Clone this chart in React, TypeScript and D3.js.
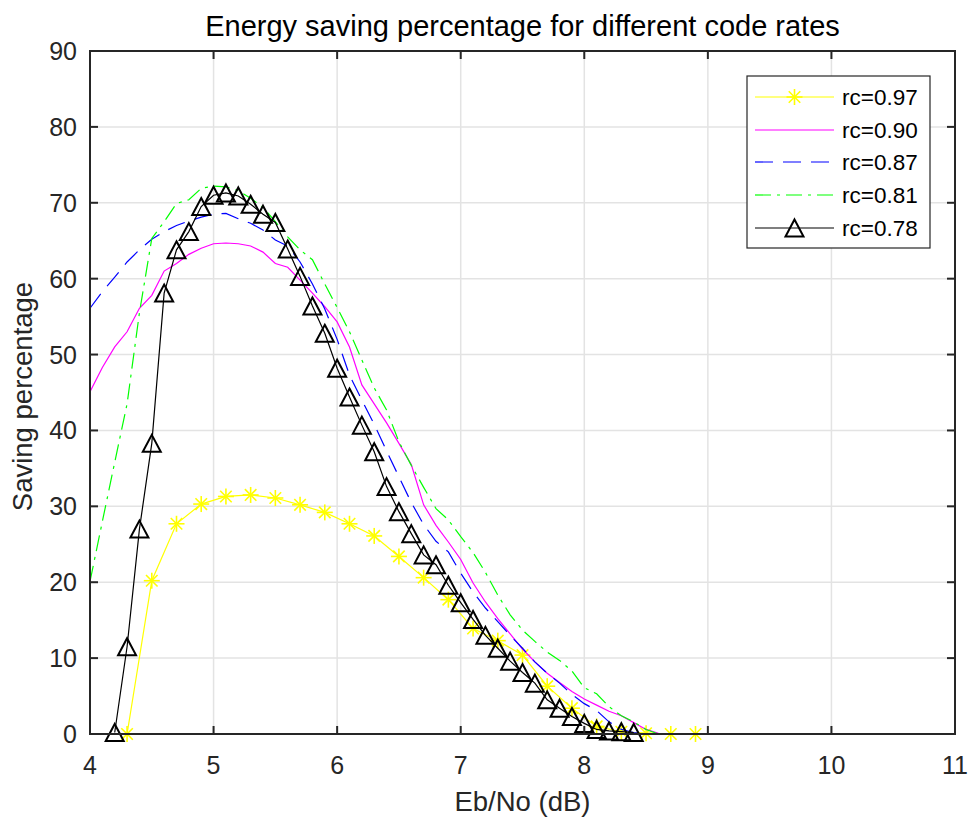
import React from 'react';
import * as d3 from 'd3';

const xTicks = [4, 5, 6, 7, 8, 9, 10, 11];
const yTicks = [0, 10, 20, 30, 40, 50, 60, 70, 80, 90];

const x97 = [4.3, 4.5, 4.7, 4.9, 5.1, 5.3, 5.5, 5.7, 5.9, 6.1, 6.3, 6.5, 6.7, 6.9, 7.1, 7.3, 7.5, 7.7, 7.9, 8.1, 8.3, 8.5, 8.7, 8.9];
const y97 = [0, 20.2, 27.7, 30.3, 31.3, 31.5, 31.1, 30.2, 29.2, 27.7, 26.1, 23.4, 20.6, 17.7, 13.9, 12.3, 10.4, 6.3, 3.4, 1.0, 0.3, 0.1, 0, 0];

const x90 = [4.0, 4.1, 4.2, 4.3, 4.4, 4.5, 4.6, 4.7, 4.8, 4.9, 5.0, 5.1, 5.2, 5.3, 5.4, 5.5, 5.6, 5.7, 5.8, 5.9, 6.0, 6.1, 6.2, 6.3, 6.4, 6.5, 6.6, 6.7, 6.8, 6.9, 7.0, 7.1, 7.2, 7.3, 7.4, 7.5, 7.6, 7.7, 7.8, 7.9, 8.0, 8.1, 8.2, 8.3, 8.4, 8.5, 8.6, 8.7];
const y90 = [45.1, 48.3, 51.0, 53.0, 56.1, 57.8, 61.0, 62.0, 63.2, 64.0, 64.6, 64.7, 64.6, 64.3, 63.5, 62.0, 61.5, 59.8, 58.1, 56.3, 54.3, 51.0, 46.0, 43.5, 41.0, 38.3, 35.5, 30.2, 27.5, 25.3, 23.0, 19.9, 17.4, 15.2, 13.2, 11.2, 9.5, 8.0, 6.8, 5.6, 4.6, 3.8, 3.0, 2.4, 1.5, 0.6, 0.1, 0];

const x87 = [4.0, 4.1, 4.2, 4.3, 4.4, 4.5, 4.6, 4.7, 4.8, 4.9, 5.0, 5.1, 5.2, 5.3, 5.4, 5.5, 5.6, 5.7, 5.8, 5.9, 6.0, 6.1, 6.2, 6.3, 6.4, 6.5, 6.6, 6.7, 6.8, 6.9, 7.0, 7.1, 7.2, 7.3, 7.4, 7.5, 7.6, 7.7, 7.8, 7.9, 8.0, 8.1, 8.2, 8.3, 8.4, 8.5];
const y87 = [56.1, 58.3, 60.2, 62.2, 63.8, 65.2, 66.2, 67.0, 67.6, 68.1, 68.5, 68.6, 67.9, 67.3, 66.4, 65.1, 64.3, 62.2, 59.3, 56.0, 52.0, 47.3, 44.0, 40.8, 37.3, 33.9, 30.5, 27.6, 25.4, 24.0, 21.2, 18.7, 16.6, 14.8, 13.0, 11.3, 9.5, 8.0, 6.7, 5.2, 4.0, 3.1, 1.6, 0.6, 0.2, 0];

const x81 = [4.0, 4.1, 4.2, 4.3, 4.4, 4.5, 4.6, 4.7, 4.8, 4.9, 5.0, 5.1, 5.2, 5.3, 5.4, 5.5, 5.6, 5.7, 5.8, 5.9, 6.0, 6.1, 6.2, 6.3, 6.4, 6.5, 6.6, 6.7, 6.8, 6.9, 7.0, 7.1, 7.2, 7.3, 7.4, 7.5, 7.6, 7.7, 7.8, 7.9, 8.0, 8.1, 8.2, 8.3, 8.4, 8.5, 8.6];
const y81 = [20.1, 28.0, 35.8, 43.5, 55.5, 65.3, 67.5, 69.9, 70.4, 71.9, 72.2, 72.1, 71.6, 70.6, 69.4, 67.5, 65.5, 63.8, 62.5, 59.3, 56.2, 53.0, 49.3, 45.6, 42.7, 38.5, 35.4, 32.5, 29.7, 28.2, 26.0, 23.9, 21.3, 18.3, 15.7, 13.7, 12.2, 10.8, 9.7, 8.3, 6.1, 5.3, 3.6, 2.4, 1.6, 0.6, 0];

const x78 = [4.2, 4.3, 4.4, 4.5, 4.6, 4.7, 4.8, 4.9, 5.0, 5.1, 5.2, 5.3, 5.4, 5.5, 5.6, 5.7, 5.8, 5.9, 6.0, 6.1, 6.2, 6.3, 6.4, 6.5, 6.6, 6.7, 6.8, 6.9, 7.0, 7.1, 7.2, 7.3, 7.4, 7.5, 7.6, 7.7, 7.8, 7.9, 8.0, 8.1, 8.2, 8.3, 8.4];
const y78 = [0.2, 11.5, 27.0, 38.3, 58.1, 63.8, 66.2, 69.5, 71.0, 71.3, 70.9, 69.8, 68.5, 67.4, 63.9, 60.3, 56.4, 52.8, 48.2, 44.4, 40.7, 37.2, 32.6, 29.3, 26.4, 23.6, 22.3, 19.6, 17.3, 15.1, 13.0, 11.3, 9.6, 8.1, 6.7, 4.5, 3.4, 2.3, 1.4, 0.6, 0.4, 0.3, 0.2];

const seriesNames = ['rc=0.97', 'rc=0.90', 'rc=0.87', 'rc=0.81', 'rc=0.78'];

type Series = { name: string; xs: number[]; ys: number[]; color: string; dash?: string; marker?: 'star' | 'tri' };

const series: Series[] = [
  { name: seriesNames[0], xs: x97, ys: y97, color: '#ffff00', marker: 'star' },
  { name: seriesNames[1], xs: x90, ys: y90, color: '#ff00ff' },
  { name: seriesNames[2], xs: x87, ys: y87, color: '#0000ff', dash: '18,10' },
  { name: seriesNames[3], xs: x81, ys: y81, color: '#00ff00', dash: '16,6,3,6' },
  { name: seriesNames[4], xs: x78, ys: y78, color: '#000000', marker: 'tri' },
];

const L = 90, R = 955, T = 51, B = 734;
const FONT = 'Arial, "Liberation Sans", Helvetica, sans-serif';
const AX = '#262626';

function Star({ cx, cy, color }: { cx: number; cy: number; color: string }) {
  const r = 8;
  const d = r * 0.72;
  return (
    <g stroke={color} strokeWidth={1.6}>
      <line x1={cx - r} y1={cy} x2={cx + r} y2={cy} />
      <line x1={cx} y1={cy - r} x2={cx} y2={cy + r} />
      <line x1={cx - d} y1={cy - d} x2={cx + d} y2={cy + d} />
      <line x1={cx - d} y1={cy + d} x2={cx + d} y2={cy - d} />
    </g>
  );
}

function Tri({ cx, cy }: { cx: number; cy: number }) {
  const w = 9, h = 8.5;
  return (
    <polygon
      points={`${cx},${cy - h} ${cx + w},${cy + h} ${cx - w},${cy + h}`}
      fill="none"
      stroke="#000"
      strokeWidth={2}
      strokeLinejoin="miter"
    />
  );
}

export default function App() {
  const x = d3.scaleLinear().domain([4, 11]).range([L, R]);
  const y = d3.scaleLinear().domain([0, 90]).range([B, T]);
  const line = d3.line<[number, number]>().x(d => x(d[0])).y(d => y(d[1]));

  const legX = 747, legY = 76, legW = 183, legH = 172;
  const entryY = [97, 130, 162, 195, 228];

  return (
    <svg width={968} height={817} style={{ position: 'absolute', left: 0, top: 0, background: '#fff' }} fontFamily={FONT}>
      <rect x={0} y={0} width={968} height={817} fill="#fff" />
      {/* grid */}
      <g stroke="#e3e3e3" strokeWidth={1.5}>
        {xTicks.slice(1, -1).map(t => (
          <line key={'gx' + t} x1={x(t)} x2={x(t)} y1={T} y2={B} />
        ))}
        {yTicks.slice(1, -1).map(t => (
          <line key={'gy' + t} x1={L} x2={R} y1={y(t)} y2={y(t)} />
        ))}
      </g>

      {/* data */}
      <g>
        {series.map(s => {
          const pts = s.xs.map((v, i) => [v, s.ys[i]] as [number, number]);
          return (
            <g key={s.name}>
              <path d={line(pts) || ''} fill="none" stroke={s.color} strokeWidth={1.2} strokeDasharray={s.dash} />
              {s.marker === 'star' && pts.map((p, i) => <Star key={i} cx={x(p[0])} cy={y(p[1])} color={s.color} />)}
              {s.marker === 'tri' && pts.map((p, i) => <Tri key={i} cx={x(p[0])} cy={y(p[1])} />)}
            </g>
          );
        })}
      </g>

      {/* axes box and ticks */}
      <rect x={L} y={T} width={R - L} height={B - T} fill="none" stroke={AX} strokeWidth={2} />
      <g stroke={AX} strokeWidth={2}>
        {xTicks.map(t => (
          <g key={'tx' + t}>
            <line x1={x(t)} x2={x(t)} y1={B} y2={B - 8} />
            <line x1={x(t)} x2={x(t)} y1={T} y2={T + 8} />
          </g>
        ))}
        {yTicks.map(t => (
          <g key={'ty' + t}>
            <line x1={L} x2={L + 8} y1={y(t)} y2={y(t)} />
            <line x1={R} x2={R - 8} y1={y(t)} y2={y(t)} />
          </g>
        ))}
      </g>
      <g fill={AX} fontSize={25}>
        {xTicks.map(t => (
          <text key={'lx' + t} x={x(t)} y={774} textAnchor="middle">{t}</text>
        ))}
        {yTicks.map(t => (
          <text key={'ly' + t} x={L - 13} y={y(t) + 9} textAnchor="end">{t}</text>
        ))}
      </g>

      {/* labels */}
      <text x={(L + R) / 2} y={36} textAnchor="middle" fontSize={29} fill="#000">
        Energy saving percentage for different code rates
      </text>
      <text x={(L + R) / 2} y={811} textAnchor="middle" fontSize={27.5} fill={AX}>
        Eb/No (dB)
      </text>
      <text transform={`translate(32, ${(T + B) / 2 + 4}) rotate(-90)`} textAnchor="middle" fontSize={27.5} fill={AX}>
        Saving percentage
      </text>

      {/* legend */}
      <rect x={legX} y={legY} width={legW} height={legH} fill="#fff" stroke={AX} strokeWidth={1.2} />
      {series.map((s, i) => {
        const ly = entryY[i];
        return (
          <g key={'leg' + i}>
            <line x1={755} x2={834} y1={ly} y2={ly} stroke={s.color} strokeWidth={1.2} strokeDasharray={s.dash} />
            {s.marker === 'star' && <Star cx={794.5} cy={ly} color={s.color} />}
            {s.marker === 'tri' && <Tri cx={794.5} cy={ly} />}
            <text x={842} y={ly + 8} fontSize={22.5} fill="#000">{s.name}</text>
          </g>
        );
      })}
    </svg>
  );
}
